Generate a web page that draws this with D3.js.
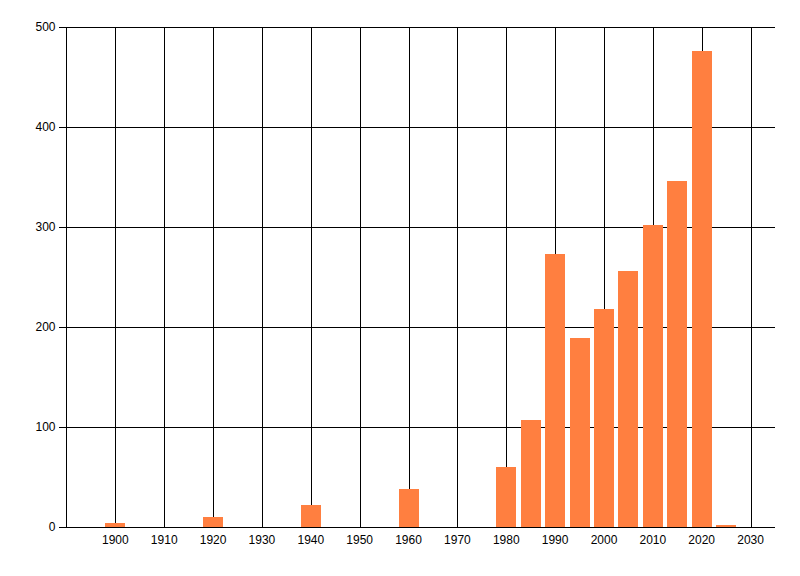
<!DOCTYPE html>
<html>
<head>
<meta charset="utf-8">
<script src="https://cdn.jsdelivr.net/npm/d3@7"></script>
<style>
  body { margin: 0; background: #fff; }
  text { font-family: "Liberation Sans", Arial, sans-serif; font-size: 12px; fill: #000; }
</style>
</head>
<body>
<svg id="chart" width="800" height="576"></svg>
<script>
// data
var years = [1900, 1920, 1940, 1960, 1980, 1985, 1990, 1995, 2000, 2005, 2010, 2015, 2020, 2025];
var counts = [4, 10, 22, 38, 60, 107, 273, 189, 218, 256, 302, 346, 476, 2];
var xTicks = [1900, 1910, 1920, 1930, 1940, 1950, 1960, 1970, 1980, 1990, 2000, 2010, 2020, 2030];
var yTicks = [0, 100, 200, 300, 400, 500];

var data = years.map(function(y, i) { return { year: y, value: counts[i] }; });

// plot box (note: "top" is a reserved window global, so use other names)
var plotLeft = 66.5, plotRight = 775, plotTop = 27, plotBottom = 527;
var barSpan = 4.1; // years

var svg = d3.select("#chart");

var x = d3.scaleLinear().domain([1890, 2035]).range([plotLeft, plotRight]);
var y = d3.scaleLinear().domain([0, 500]).range([plotBottom, plotTop]);

// vertical grid
svg.append("g")
    .selectAll("line")
    .data(xTicks)
    .enter().append("line")
    .attr("x1", d => Math.round(x(d)) + 0.5)
    .attr("x2", d => Math.round(x(d)) + 0.5)
    .attr("y1", plotTop)
    .attr("y2", plotBottom)
    .style("stroke", "#000")
    .style("shape-rendering", "crispEdges");

// horizontal grid
svg.append("g")
    .selectAll("line")
    .data(yTicks)
    .enter().append("line")
    .attr("x1", plotLeft - 8)
    .attr("x2", plotRight)
    .attr("y1", d => Math.round(y(d)) + 0.5)
    .attr("y2", d => Math.round(y(d)) + 0.5)
    .style("stroke", "#000")
    .style("shape-rendering", "crispEdges");

// bars
svg.append("g")
    .selectAll("rect")
    .data(data)
    .enter().append("rect")
    .attr("x", d => x(d.year - barSpan / 2))
    .attr("width", d => x(d.year + barSpan / 2) - x(d.year - barSpan / 2))
    .attr("y", d => y(d.value))
    .attr("height", d => y(0) - y(d.value))
    .style("fill", "#ff7f40")
    .style("shape-rendering", "crispEdges");

// axis lines drawn over bars
svg.append("line")
    .attr("x1", Math.floor(plotLeft) + 0.5).attr("x2", Math.floor(plotLeft) + 0.5)
    .attr("y1", plotTop).attr("y2", plotBottom + 1)
    .style("stroke", "#000")
    .style("shape-rendering", "crispEdges");
svg.append("line")
    .attr("x1", plotLeft - 8).attr("x2", plotRight)
    .attr("y1", Math.round(y(0)) + 0.5).attr("y2", Math.round(y(0)) + 0.5)
    .style("stroke", "#000")
    .style("shape-rendering", "crispEdges");

// y labels
svg.append("g")
    .selectAll("text")
    .data(yTicks)
    .enter().append("text")
    .attr("x", plotLeft - 11)
    .attr("y", d => y(d))
    .attr("dy", "0.35em")
    .attr("text-anchor", "end")
    .text(d => d);

// x labels
svg.append("g")
    .selectAll("text")
    .data(xTicks)
    .enter().append("text")
    .attr("x", d => x(d))
    .attr("y", plotBottom + 17)
    .attr("text-anchor", "middle")
    .text(d => d);
</script>
</body>
</html>
